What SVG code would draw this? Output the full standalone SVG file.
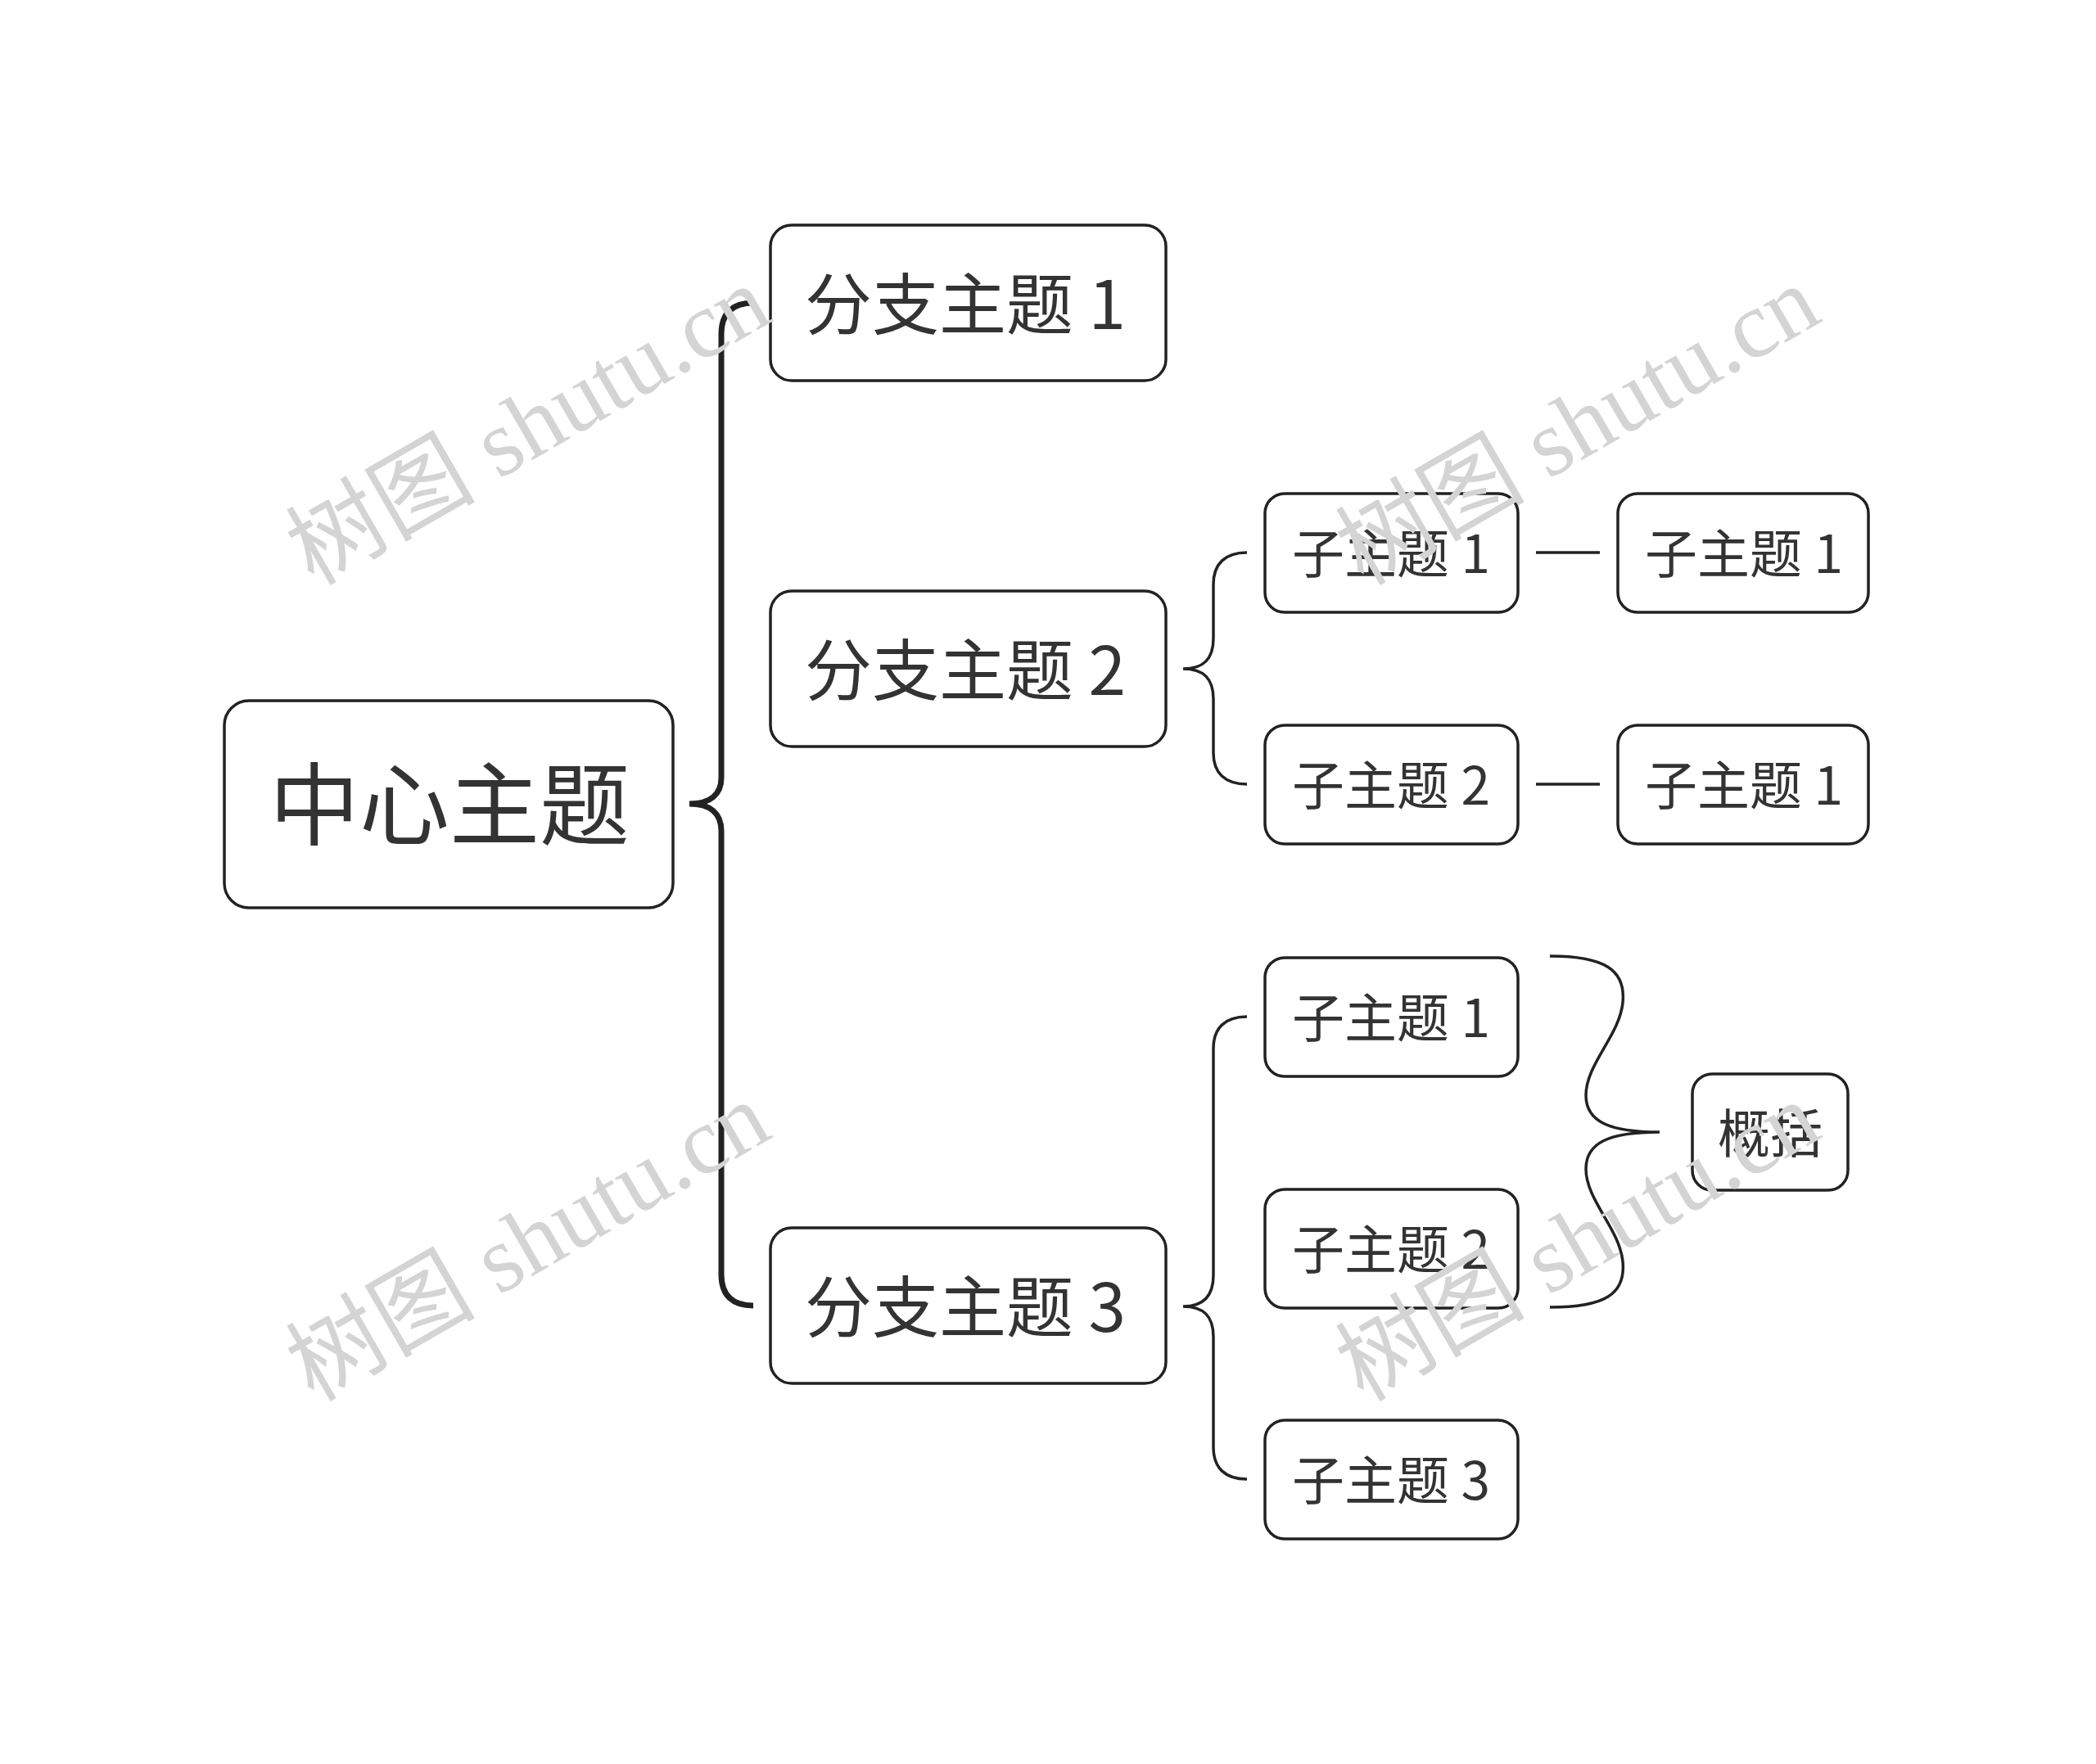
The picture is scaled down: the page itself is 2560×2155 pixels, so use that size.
<svg xmlns="http://www.w3.org/2000/svg" width="2560" height="2155" viewBox="0 0 2560 2155">
<style>
.box{fill:#ffffff;stroke:#222222;stroke-width:3.5}
.t{font-family:"Noto Sans CJK SC","Noto Sans",sans-serif;fill:#333333;text-anchor:middle;dominant-baseline:central}
.c{fill:none;stroke:#222222;stroke-width:3.5;stroke-linecap:butt}
.main{fill:none;stroke:#222222;stroke-width:7}
.wm{font-family:"Liberation Serif","Noto Sans CJK SC",serif;fill:#d4d4d4;font-size:116px;text-anchor:middle;dominant-baseline:central}
</style>
<rect width="2560" height="2155" fill="#ffffff"/>
<g id="connectors">
<path class="main" d="M920,370 C895,370 881,382 881,408 L881,950 C881,970 868,982 842,982 C868,982 881,994 881,1015 L881,1557 C881,1583 895,1595 920,1595"/>
<path class="c" d="M1523,675 C1496,675 1482,689 1482,714 L1482,780 C1482,805 1470,817 1445,817 C1470,817 1482,829 1482,854 L1482,920 C1482,944 1496,958 1523,958"/>
<path class="c" d="M1523,1242 C1496,1242 1482,1256 1482,1281 L1482,1558 C1482,1583 1470,1596 1445,1596 C1470,1596 1482,1608 1482,1633 L1482,1768 C1482,1793 1496,1807 1523,1807"/>
<line class="c" x1="1876" y1="675" x2="1954" y2="675"/>
<line class="c" x1="1876" y1="958" x2="1954" y2="958"/>
<path class="c" d="M1893,1168 C1960,1168 1986,1185 1982,1225 C1978,1265 1937,1300 1937,1338 C1937,1370 1965,1383 2027,1383 C1965,1383 1937,1396 1937,1428 C1937,1466 1978,1501 1982,1541 C1986,1581 1960,1597 1893,1597"/>
</g>
<g id="center">
<rect class="box" x="274" y="856" width="548" height="253" rx="30"/>
<text class="t" x="549" y="976" font-size="110">中心主题</text>
</g>
<g id="branch1">
<rect class="box" x="941" y="275" width="483" height="190" rx="26"/>
<text class="t" x="1179" y="366" font-size="82">分支主题 1</text>
</g>
<g id="branch2">
<rect class="box" x="941" y="722" width="483" height="190" rx="26"/>
<text class="t" x="1179" y="813" font-size="82">分支主题 2</text>
</g>
<g id="branch3">
<rect class="box" x="941" y="1500" width="483" height="190" rx="26"/>
<text class="t" x="1179" y="1591" font-size="82">分支主题 3</text>
</g>
<g id="sub2-1">
<rect class="box" x="1545" y="603" width="309" height="145" rx="24"/>
<text class="t" x="1699" y="672" font-size="64">子主题 1</text>
</g>
<g id="sub2-2">
<rect class="box" x="1545" y="886" width="309" height="145" rx="24"/>
<text class="t" x="1699" y="955" font-size="64">子主题 2</text>
</g>
<g id="sub2-1-1">
<rect class="box" x="1976" y="603" width="306" height="145" rx="24"/>
<text class="t" x="2130" y="672" font-size="64">子主题 1</text>
</g>
<g id="sub2-2-1">
<rect class="box" x="1976" y="886" width="306" height="145" rx="24"/>
<text class="t" x="2130" y="955" font-size="64">子主题 1</text>
</g>
<g id="sub3-1">
<rect class="box" x="1545" y="1170" width="309" height="145" rx="24"/>
<text class="t" x="1699" y="1239" font-size="64">子主题 1</text>
</g>
<g id="sub3-2">
<rect class="box" x="1545" y="1453" width="309" height="145" rx="24"/>
<text class="t" x="1699" y="1522" font-size="64">子主题 2</text>
</g>
<g id="sub3-3">
<rect class="box" x="1545" y="1735" width="309" height="145" rx="24"/>
<text class="t" x="1699" y="1804" font-size="64">子主题 3</text>
</g>
<g id="summary">
<rect class="box" x="2067" y="1312" width="190" height="142" rx="24"/>
<text class="t" x="2162" y="1380" font-size="64">概括</text>
</g>
<g id="watermarks">
<text class="wm" x="645" y="520" transform="rotate(-30 645 520)">树图 shutu.cn</text>
<text class="wm" x="1927" y="520" transform="rotate(-30 1927 520)">树图 shutu.cn</text>
<text class="wm" x="645" y="1517" transform="rotate(-30 645 1517)">树图 shutu.cn</text>
<text class="wm" x="1927" y="1517" transform="rotate(-30 1927 1517)">树图 shutu.cn</text>
</g>
</svg>
